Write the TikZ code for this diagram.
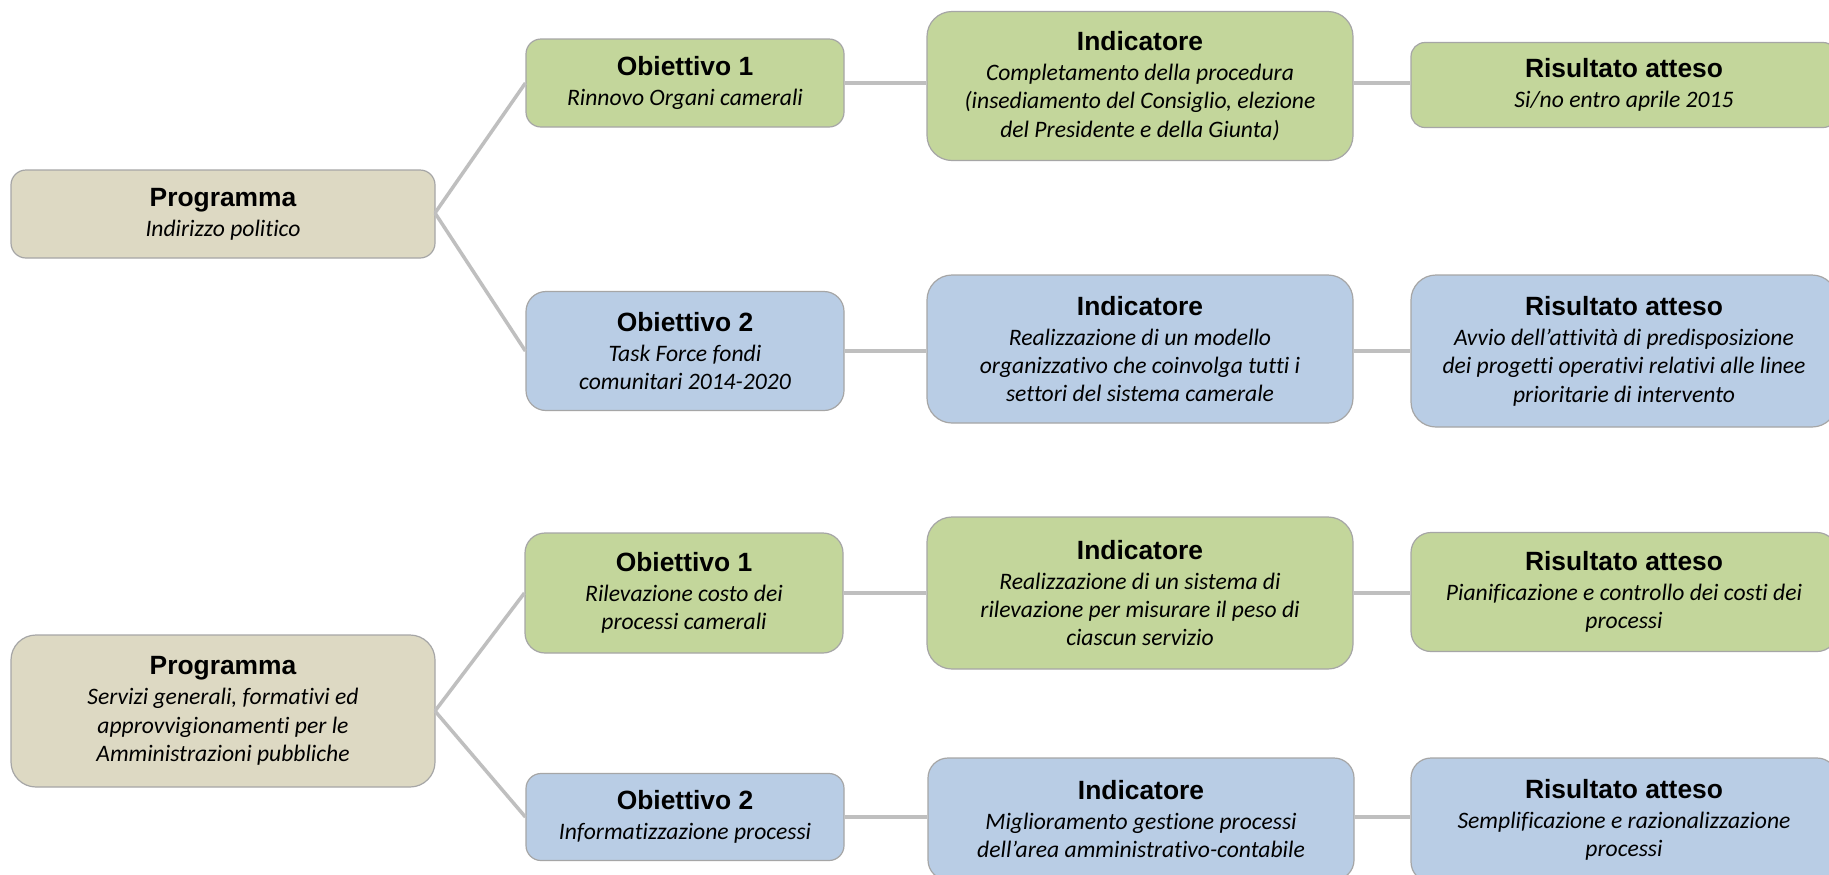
\documentclass[tikz,border=0pt]{standalone}
\usepackage{fontspec}
\setmainfont{Liberation Sans}
\newfontfamily\descfont{Carlito}[Ligatures={NoCommon}]
\definecolor{beigefill}{HTML}{DDD9C3}
\definecolor{greenfill}{HTML}{C3D69B}
\definecolor{bluefill}{HTML}{B9CDE5}
\definecolor{bordergray}{HTML}{A6A6A6}
\definecolor{linegray}{HTML}{BFBFBF}
\newcommand{\ttl}[1]{{\fontsize{13.2pt}{14.2pt}\selectfont\bfseries #1}\\[0.8pt]}
\newcommand{\dsc}{\fontsize{11.8pt}{14.2pt}\selectfont\descfont\itshape}
\tikzset{
  box/.style={draw=bordergray, line width=0.6pt, align=center, inner sep=0pt,
    font=\fontsize{11.8pt}{14.2pt}\selectfont},
  prog/.style={box, fill=beigefill},
  gbox/.style={box, fill=greenfill},
  bbox/.style={box, fill=bluefill},
  objsz/.style={minimum width=159pt, minimum height=#1},
  widesz/.style={minimum width=213pt, minimum height=#1},
  progsz/.style={minimum width=212pt, minimum height=#1},
  conn/.style={draw=linegray, line width=1.75pt},
}
\begin{document}
\begin{tikzpicture}[x=0.5pt, y=-0.5pt]
\clip (0,0) rectangle (1829,874);
\fill[white] (0,0) rectangle (1829,874);

\coordinate (p1) at (435,213);
\coordinate (p2) at (435,711);

% Program 1
\node[prog, progsz=44pt, rounded corners=7.5pt] (prog1) at (223,214)
  {\ttl{Programma}\dsc Indirizzo politico};
% Row 1
\node[gbox, objsz=44pt, rounded corners=7.5pt] (obj1) at (685,83)
  {\ttl{Obiettivo 1}\dsc Rinnovo Organi camerali};
\node[gbox, widesz=74.5pt, rounded corners=12.5pt] (ind1) at (1140,86)
  {\ttl{Indicatore}\dsc Completamento della procedura\\ \dsc (insediamento del Consiglio, elezione\\ \dsc del Presidente e della Giunta)};
\node[gbox, widesz=42.5pt, rounded corners=7pt] (ris1) at (1624,85)
  {\ttl{Risultato atteso}\dsc Si/no entro aprile 2015};
% Row 2
\node[bbox, objsz=59.5pt, rounded corners=10pt] (obj2) at (685,351)
  {\ttl{Obiettivo 2}\dsc Task Force fondi\\ \dsc comunitari 2014-2020};
\node[bbox, widesz=74pt, rounded corners=12.5pt] (ind2) at (1140,349)
  {\ttl{Indicatore}\dsc Realizzazione di un modello\\ \dsc organizzativo che coinvolga tutti i\\ \dsc settori del sistema camerale};
\node[bbox, widesz=76pt, rounded corners=12.5pt] (ris2) at (1624,351)
  {\ttl{Risultato atteso}\dsc Avvio dell’attività di predisposizione\\ \dsc dei progetti operativi relativi alle linee\\ \dsc prioritarie di intervento};

% Program 2
\node[prog, progsz=76pt, rounded corners=12.5pt] (prog2) at (223,711)
  {\ttl{Programma}\dsc Servizi generali, formativi ed\\ \dsc approvvigionamenti per le\\ \dsc Amministrazioni pubbliche};
% Row 3
\node[gbox, objsz=60pt, rounded corners=10pt] (obj3) at (684,593)
  {\ttl{Obiettivo 1}\dsc Rilevazione costo dei\\ \dsc processi camerali};
\node[gbox, widesz=76pt, rounded corners=12.5pt] (ind3) at (1140,593)
  {\ttl{Indicatore}\dsc Realizzazione di un sistema di\\ \dsc rilevazione per misurare il peso di\\ \dsc ciascun servizio};
\node[gbox, widesz=59.5pt, rounded corners=10pt] (ris3) at (1624,592)
  {\ttl{Risultato atteso}\dsc Pianificazione e controllo dei costi dei\\ \dsc processi};
% Row 4
\node[bbox, objsz=43.5pt, rounded corners=7.5pt] (obj4) at (685,817)
  {\ttl{Obiettivo 2}\dsc Informatizzazione processi};
\node[bbox, widesz=61pt, rounded corners=10pt] (ind4) at (1141,819)
  {\ttl{Indicatore}\dsc Miglioramento gestione processi\\ \dsc dell’area amministrativo-contabile};
\node[bbox, widesz=62pt, rounded corners=10pt] (ris4) at (1624,820)
  {\ttl{Risultato atteso}\dsc Semplificazione e razionalizzazione\\ \dsc processi};

% connectors
\draw[conn] (p1) -- (obj1.west);
\draw[conn] (p1) -- (obj2.west);
\draw[conn] (p2) -- (obj3.west);
\draw[conn] (p2) -- (obj4.west);
\draw[conn] (obj1.east) -- (obj1.east -| ind1.west);
\draw[conn] (ind1.east |- obj1.east) -- (obj1.east -| ris1.west);
\draw[conn] (obj2.east) -- (obj2.east -| ind2.west);
\draw[conn] (ind2.east |- obj2.east) -- (obj2.east -| ris2.west);
\draw[conn] (obj3.east) -- (obj3.east -| ind3.west);
\draw[conn] (ind3.east |- obj3.east) -- (obj3.east -| ris3.west);
\draw[conn] (obj4.east) -- (obj4.east -| ind4.west);
\draw[conn] (ind4.east |- obj4.east) -- (obj4.east -| ris4.west);
\end{tikzpicture}
\end{document}
